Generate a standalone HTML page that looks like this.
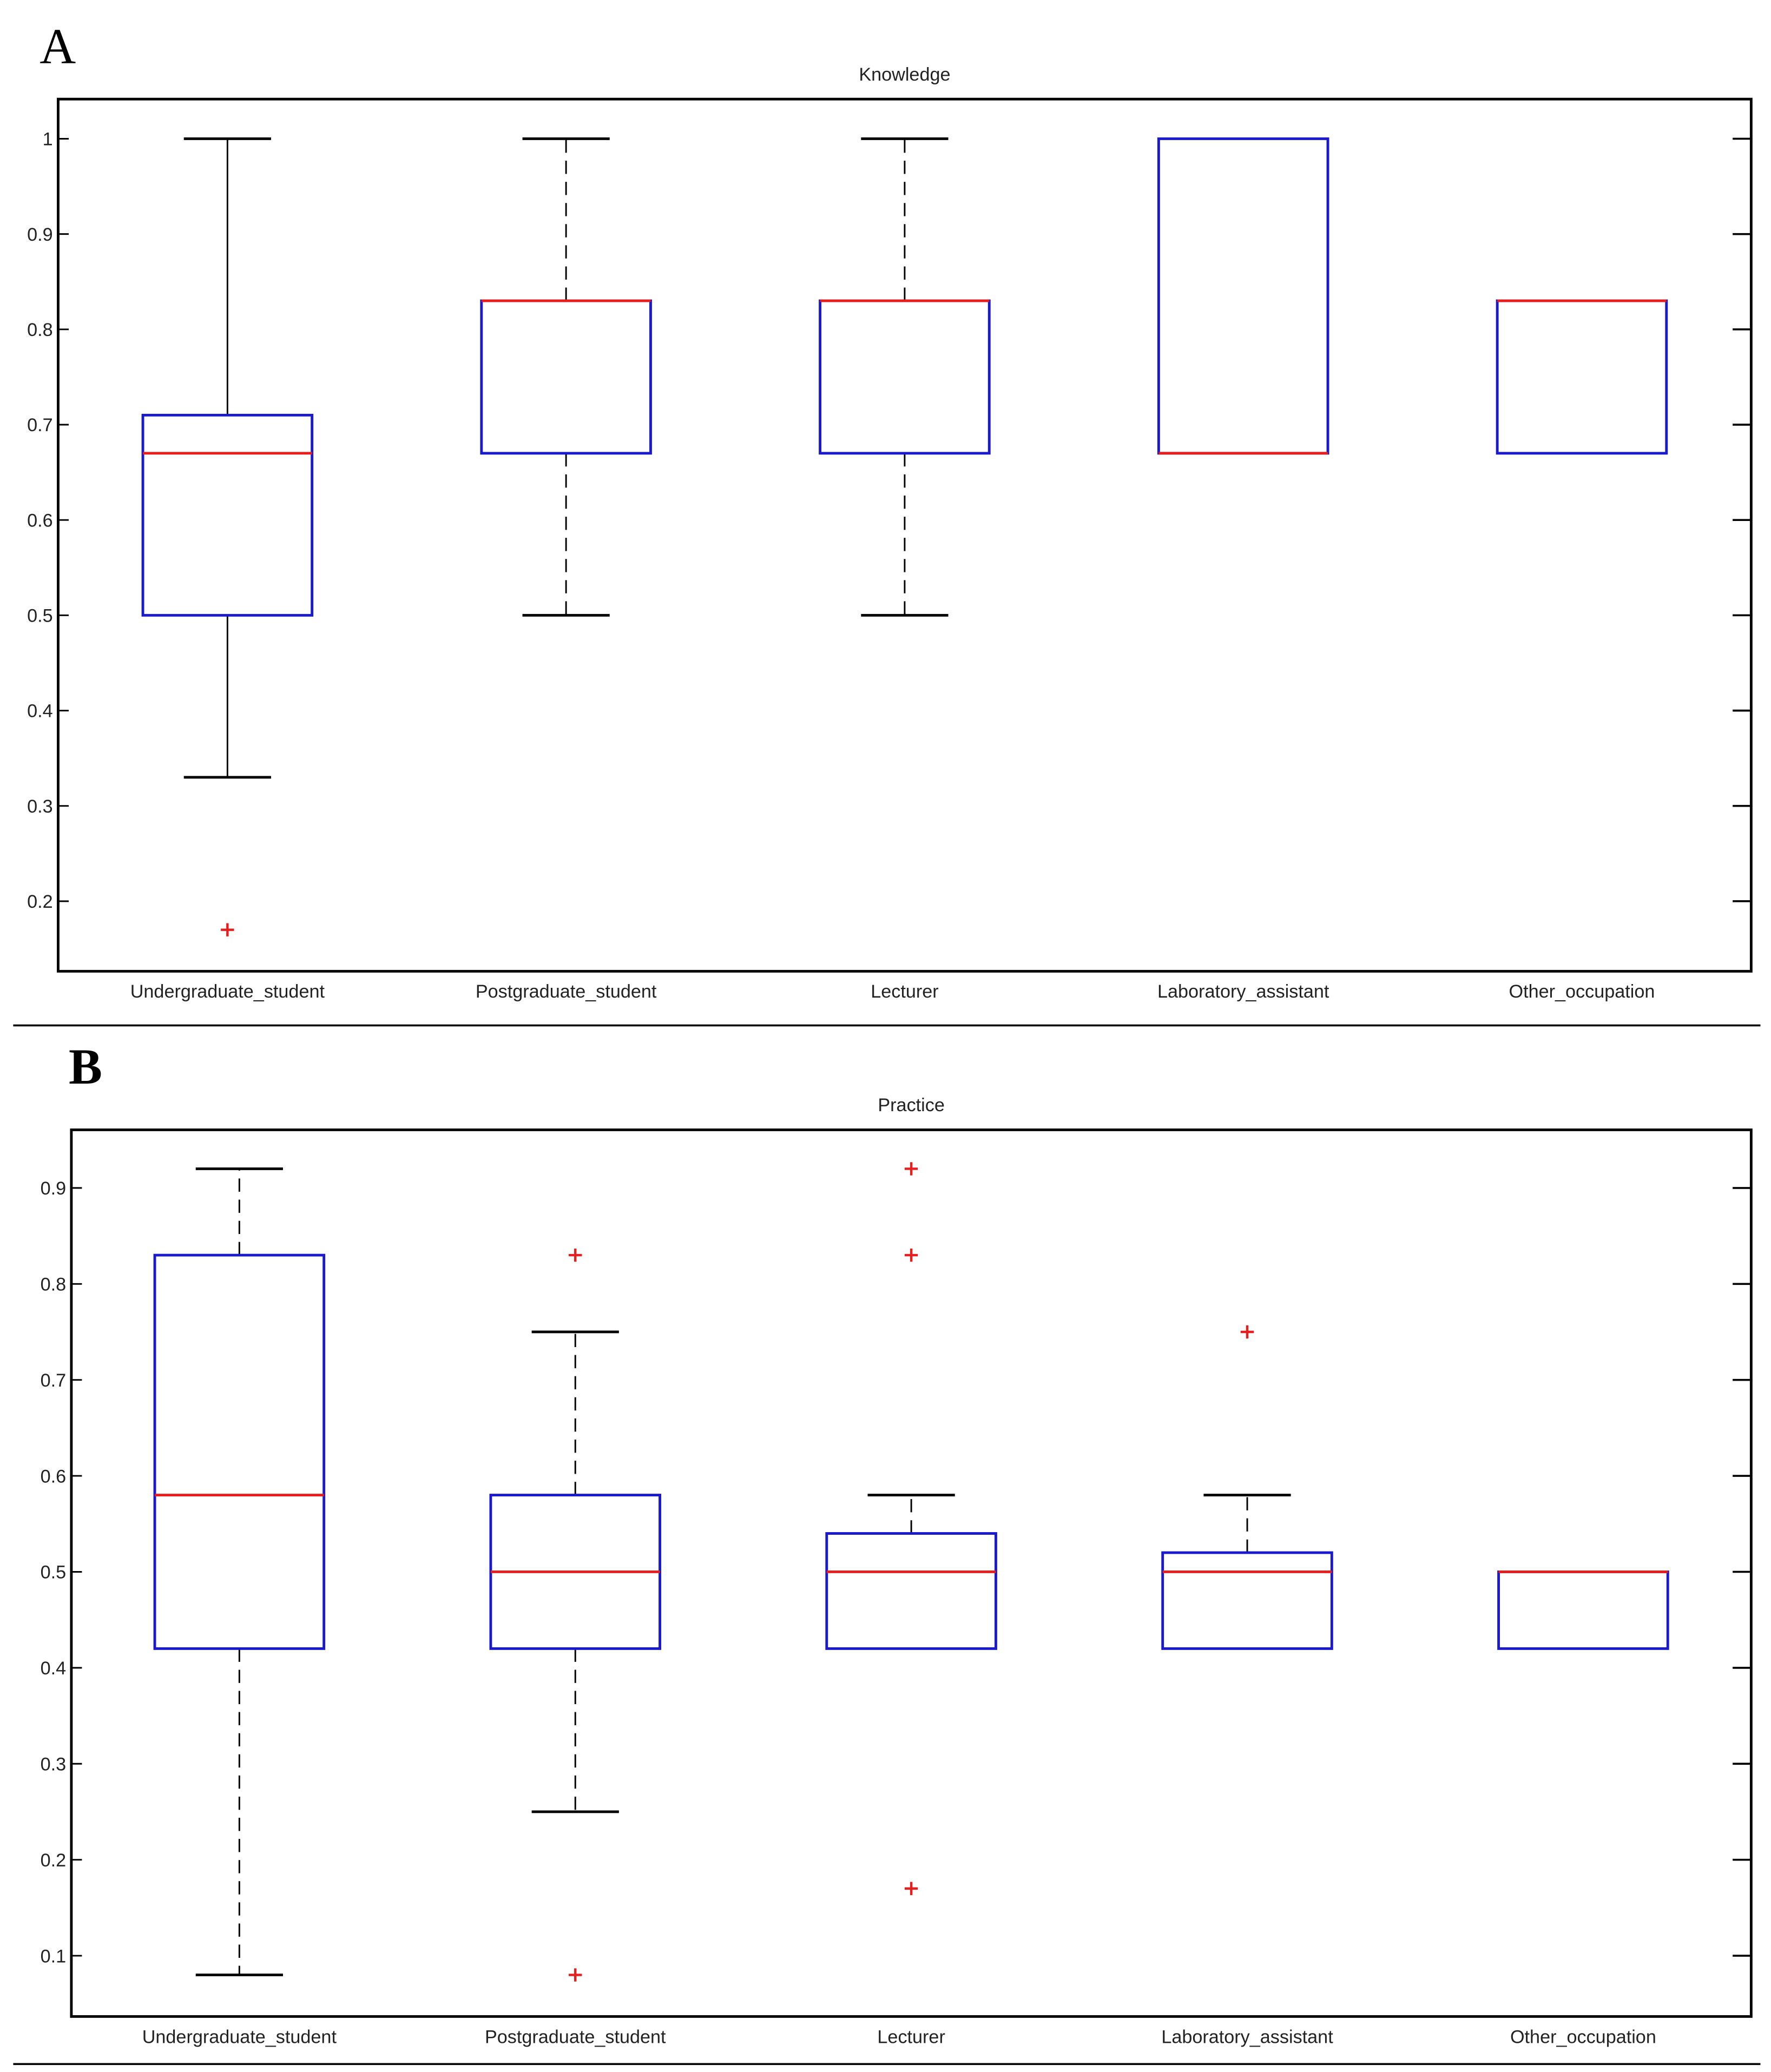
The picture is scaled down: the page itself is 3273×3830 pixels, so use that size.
<!DOCTYPE html>
<html><head><meta charset="utf-8"><style>
html,body{margin:0;padding:0;background:#fff;}
svg{display:block;}
text{font-family:"Liberation Sans",sans-serif;fill:#222;}
</style></head><body>
<svg id="fig" width="3273" height="3830" viewBox="0 0 1340 1568" preserveAspectRatio="none" xmlns="http://www.w3.org/2000/svg">
<rect width="1340" height="1568" fill="#fff"/>
<line x1="10" y1="776" x2="1332" y2="776" stroke="#000" stroke-width="1.5"/>
<line x1="10" y1="1562" x2="1332" y2="1562" stroke="#000" stroke-width="1.5"/>
<text x="30" y="48" style="font-family:'Liberation Serif',serif;font-size:38px;fill:#000">A</text>
<text x="52" y="820" style="font-family:'Liberation Serif',serif;font-size:38px;font-weight:bold;fill:#000">B</text>
<g id="pa"></g>
<g id="pb"></g>
</svg>
<script>
const categories = ["Undergraduate_student","Postgraduate_student","Lecturer","Laboratory_assistant","Other_occupation"];
// Knowledge
const kLow = [0.33, 0.5, 0.5, 0.67, 0.67];
const kQ1 = [0.5, 0.67, 0.67, 0.67, 0.67];
const kMed = [0.67, 0.83, 0.83, 0.67, 0.83];
const kQ3 = [0.71, 0.83, 0.83, 1.0, 0.83];
const kHigh = [1.0, 1.0, 1.0, 1.0, 0.83];
const kOut = [[0.17], [], [], [], []];
const kDash = [false, true, true, true, true];
const kTicks = [0.2,0.3,0.4,0.5,0.6,0.7,0.8,0.9,1];
const kTickLabels = ["0.2","0.3","0.4","0.5","0.6","0.7","0.8","0.9","1"];
// Practice
const pLow = [0.08, 0.25, 0.42, 0.42, 0.42];
const pQ1 = [0.42, 0.42, 0.42, 0.42, 0.42];
const pMed = [0.58, 0.5, 0.5, 0.5, 0.5];
const pQ3 = [0.83, 0.58, 0.54, 0.52, 0.5];
const pHigh = [0.92, 0.75, 0.58, 0.58, 0.5];
const pOut = [[], [0.83, 0.08], [0.92, 0.83, 0.17], [0.75], []];
const pDash = [true, true, true, true, true];
const pTicks = [0.1,0.2,0.3,0.4,0.5,0.6,0.7,0.8,0.9];
const pTickLabels = ["0.1","0.2","0.3","0.4","0.5","0.6","0.7","0.8","0.9"];

const NS="http://www.w3.org/2000/svg";
function mk(parent,tag,attrs){const e=document.createElementNS(NS,tag);for(const k in attrs)e.setAttribute(k,attrs[k]);parent.appendChild(e);return e;}

function draw(g,cfg,low,q1,med,q3,high,outs,dash,ticks,tickLabels,title){
  const {L,R,T,B,v0,y0,v1,y1}=cfg;
  const y=v=>y0+(v-v0)*(y1-y0)/(v1-v0);
  const n=categories.length, step=(R-L)/n;
  const x=i=>L+step*(i+0.5);
  const t=mk(g,'text',{x:(L+R)/2,y:T-14,'text-anchor':'middle','font-size':14});
  t.textContent=title;
  
  
  ticks.forEach((v,i)=>{
    const l1=mk(g,'line',{x1:L,x2:L+8,y1:y(v),y2:y(v),stroke:'#000','stroke-width':1.2});
    
    
    const l2=mk(g,'line',{x1:R-14,x2:R,y1:y(v),y2:y(v),stroke:'#000','stroke-width':1.5});
    
    
    const tl=mk(g,'text',{x:L-4,y:y(v)+5,'text-anchor':'end','font-size':14});
    tl.textContent=tickLabels[i];
    
    
  });
  categories.forEach((c,i)=>{
    const cx=x(i), hw=64, cw=33;
    const da=dash[i]?'10 6':'none';
    const grp=mk(g,'g',{});
    
    
    if(high[i]>q3[i]){
      mk(grp,'line',{x1:cx,x2:cx,y1:y(q3[i]),y2:y(high[i]),stroke:'#000','stroke-width':1.2,'stroke-dasharray':da});
      mk(grp,'line',{x1:cx-cw,x2:cx+cw,y1:y(high[i]),y2:y(high[i]),stroke:'#000','stroke-width':2});
    }
    if(low[i]<q1[i]){
      mk(grp,'line',{x1:cx,x2:cx,y1:y(q1[i]),y2:y(low[i]),stroke:'#000','stroke-width':1.2,'stroke-dasharray':da});
      mk(grp,'line',{x1:cx-cw,x2:cx+cw,y1:y(low[i]),y2:y(low[i]),stroke:'#000','stroke-width':2});
    }
    mk(grp,'rect',{x:cx-hw,y:y(q3[i]),width:2*hw,height:Math.max(0,y(q1[i])-y(q3[i])),fill:'none',stroke:'#1a1acc','stroke-width':2});
    mk(grp,'line',{x1:cx-hw,x2:cx+hw,y1:y(med[i]),y2:y(med[i]),stroke:'#e61e1e','stroke-width':2});
    outs[i].forEach(o=>{
      const p=mk(grp,'path',{d:`M${cx-5},${y(o)}h10M${cx},${y(o)-5}v10`,stroke:'#e61e1e','stroke-width':1.8});
      
      
    });
    const xl=mk(g,'text',{x:cx,y:B+20,'text-anchor':'middle','font-size':14});
    xl.textContent=c;
    
    
  });
  const fr=mk(g,'rect',{x:L,y:T,width:R-L,height:B-T,fill:'none',stroke:'#000','stroke-width':2});
  
  
}
draw(document.getElementById('pa'),{L:44,R:1325,T:75,B:735,v0:1,y0:105,v1:0.2,y1:682},kLow,kQ1,kMed,kQ3,kHigh,kOut,kDash,kTicks,kTickLabels,'Knowledge');
draw(document.getElementById('pb'),{L:54,R:1325,T:855,B:1526,v0:0.9,y0:899,v1:0.1,y1:1480},pLow,pQ1,pMed,pQ3,pHigh,pOut,pDash,pTicks,pTickLabels,'Practice');
</script>
</body></html>
